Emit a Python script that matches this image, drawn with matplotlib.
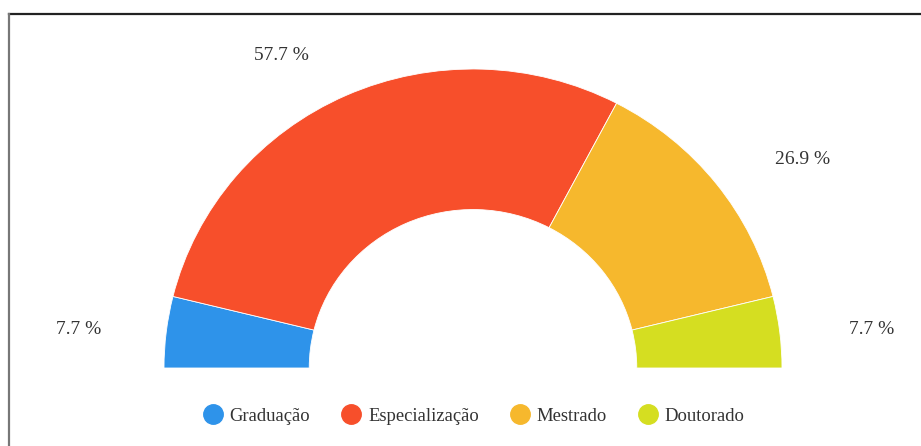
import matplotlib
matplotlib.use("Agg")
import matplotlib.pyplot as plt
from matplotlib.lines import Line2D

categories = ["Graduação", "Especialização", "Mestrado", "Doutorado"]
values = [2, 15, 7, 2]
pct_labels = ["7.7 %", "57.7 %", "26.9 %", "7.7 %"]
colors = ["#2E93EA", "#F74F2B", "#F6B82D", "#D5DE21"]

W, H = 921, 446
fig = plt.figure(figsize=(W / 100, H / 100), dpi=100)
fig.patch.set_facecolor("white")

# pie axes: outer bounding box of the half ring in pixels
left, right, top, base = 164, 782, 69, 368
ax = fig.add_axes([left / W, 1 - base / H, (right - left) / W, (base - top) / H])
total = sum(values)
ax.pie(values + [total], colors=colors + ["none"], startangle=180,
       counterclock=False, radius=1.0,
       wedgeprops=dict(width=0.47, edgecolor="white", linewidth=0.6))
ax.patches[-1].set_visible(False)
ax.set_aspect("auto")
ax.set_xlim(-1, 1)
ax.set_ylim(0, 1)
ax.axis("off")

serif = ["Liberation Serif", "DejaVu Serif"]
label_pos = [(79, 330), (281, 56), (803, 159), (872, 330)]
for (x, y), t in zip(label_pos, pct_labels):
    fig.text(x / W, 1 - y / H, t, ha="center", va="center",
             fontsize=14, family=serif, color="#333333")

handles = [Line2D([], [], marker="o", linestyle="none", markersize=14,
                  markerfacecolor=c, markeredgecolor=c) for c in colors]
fig.legend(handles, categories, loc="center", bbox_to_anchor=(474 / W, 1 - 416 / H),
           ncol=4, frameon=False, prop={"family": serif, "size": 13.4},
           handlelength=1.0, handletextpad=0.4, columnspacing=1.7,
           labelcolor="#333333")

# frame lines
fig.add_artist(Line2D([9 / W, 1], [1 - 14 / H, 1 - 14 / H], color="#222222", linewidth=1.6,
                      transform=fig.transFigure))
fig.add_artist(Line2D([9 / W, 9 / W], [1 - 14 / H, 0], color="#777777", linewidth=1.6,
                      transform=fig.transFigure))

fig.savefig("out.png", dpi=100)
